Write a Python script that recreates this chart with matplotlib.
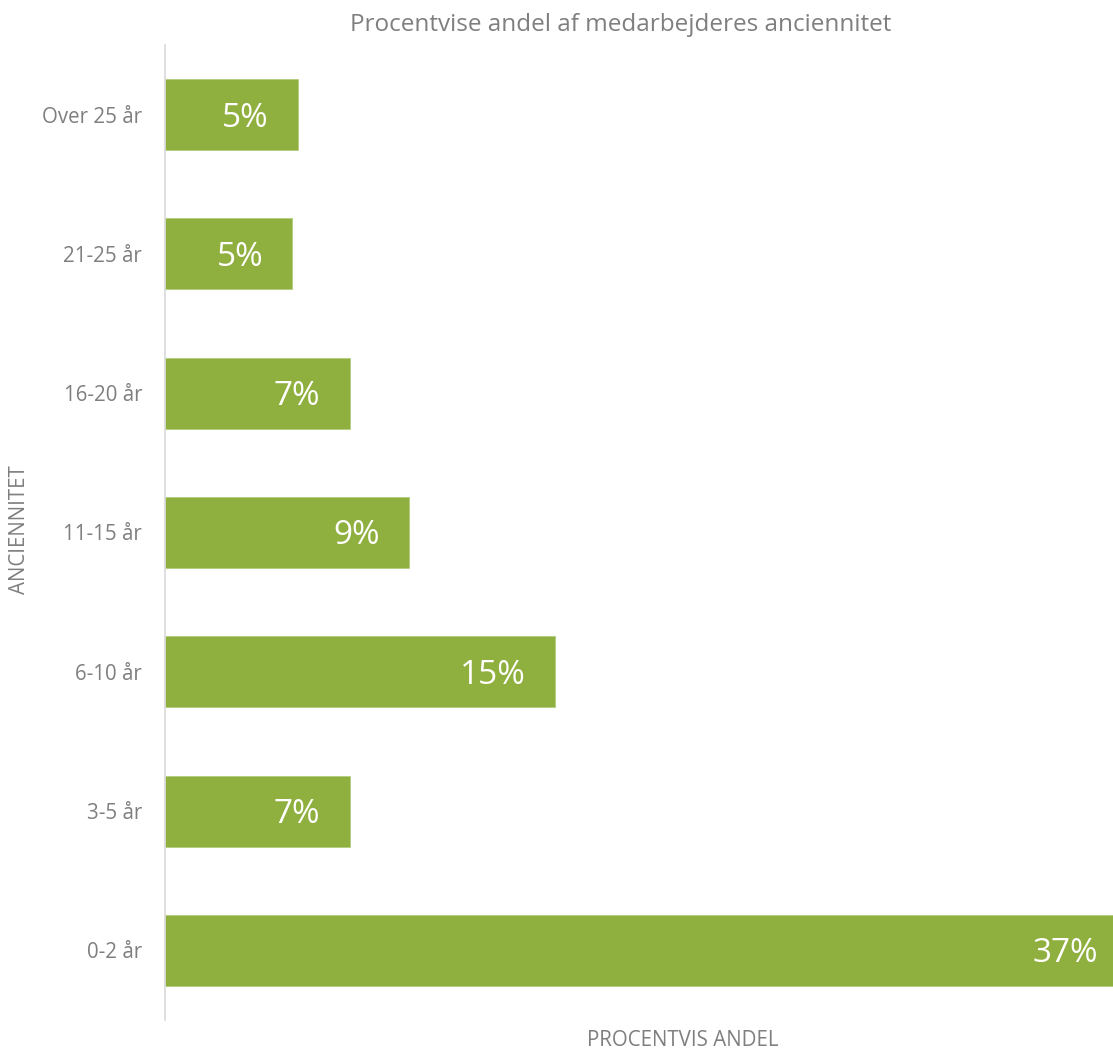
import matplotlib
matplotlib.use("Agg")
import matplotlib.pyplot as plt

categories = ["0-2 år", "3-5 år", "6-10 år", "11-15 år", "16-20 år", "21-25 år", "Over 25 år"]
values = [37.0, 7.1, 15.0, 9.4, 7.1, 4.9, 5.1]
labels = ["37%", "7%", "15%", "9%", "7%", "5%", "5%"]

plt.rcParams['font.family'] = ['Open Sans', 'DejaVu Sans']

W, H = 1113, 1054
fig = plt.figure(figsize=(W / 100, H / 100), dpi=100)
left, right, top, bottom = 165, 1113, 45, 1020
ax = fig.add_axes([left / W, 1 - bottom / H, (right - left) / W, (bottom - top) / H])

green = "#8FAF3F"
grey = "#7F7F7F"
ypos = list(range(len(categories)))
ax.barh(ypos, values, height=0.51, color=green, edgecolor="#B4CC80", linewidth=0.6)
ax.set_xlim(0, (right - left) / 26.0)
ax.set_ylim(-0.5, 6.5)
ax.set_yticks(ypos)
ax.set_yticklabels(categories, fontsize=14.8, color=grey)
ax.tick_params(axis="y", length=0, pad=16.5)
ax.set_xticks([])
for s in ["top", "right", "bottom"]:
    ax.spines[s].set_visible(False)
ax.spines["left"].set_color("#D9D9D9")
ax.spines["left"].set_linewidth(1.2)

for y, v, lab in zip(ypos, values, labels):
    ax.annotate(lab, (v, y), xytext=(-21, -2.5), textcoords="offset points",
                ha="right", va="center", color="white", fontsize=24,
                annotation_clip=False)

fig.text(621 / W, 1 - 25 / H, "Procentvise andel af medarbejderes anciennitet",
         ha="center", va="center", fontsize=17.5, color=grey)
fig.text(20 / W, 1 - 530 / H, "ANCIENNITET", rotation=90, ha="center", va="center",
         fontsize=14.8, color=grey)
fig.text(683 / W, 1 - 1041 / H, "PROCENTVIS ANDEL", ha="center", va="center",
         fontsize=14.8, color=grey)

fig.savefig("out.png", dpi=100)
